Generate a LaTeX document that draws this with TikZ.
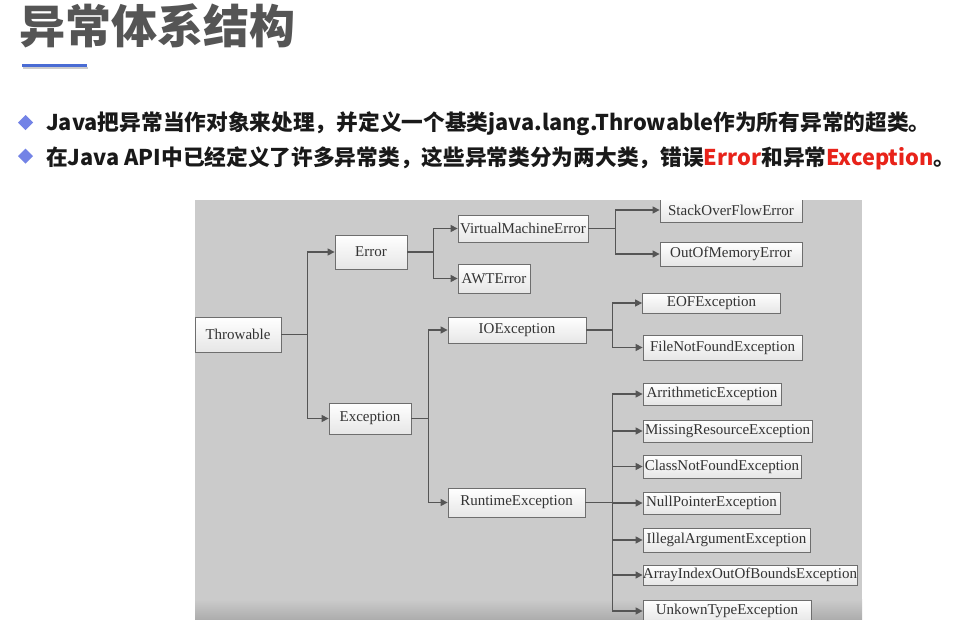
\documentclass[tikz,border=0pt]{standalone}
\usepackage{fontspec}
\newfontfamily\cjk{Noto Sans CJK SC}
\newfontfamily\tnr{Liberation Serif}
\usetikzlibrary{arrows.meta}
\definecolor{titlegray}{HTML}{555555}
\definecolor{ulblue}{HTML}{4A6CD4}
\definecolor{diablue}{HTML}{7383E6}
\definecolor{txtred}{HTML}{E8231A}
\definecolor{bggray}{HTML}{CBCBCB}
\definecolor{bgdark}{HTML}{ADADAD}
\definecolor{linegray}{HTML}{555555}
\definecolor{boxedge}{HTML}{6E6E6E}
\definecolor{boxbot}{HTML}{E6E6E6}
\definecolor{boxtext}{HTML}{333333}
\tikzset{
  box/.style={draw=boxedge, line width=0.8pt, top color=white, bottom color=boxbot,
    inner sep=0pt, text=boxtext, font=\tnr\fontsize{15}{15}\selectfont},
  arr/.style={draw=linegray, line width=1.3pt, -{Triangle[length=7pt,width=7pt]}},
  bullet/.style={fill=diablue},
  bullettext/.style={anchor=base west, inner sep=0pt, text=black!90,
    font=\cjk\bfseries\fontsize{21.7}{25}\selectfont}
}
\begin{document}
\begin{tikzpicture}[x=1pt,y=-1pt]
\useasboundingbox (0,0) rectangle (967,642);
\fill[white] (0,0) rectangle (967,642);
% title
\node[anchor=base west, inner sep=0pt, text=titlegray,
  font=\cjk\bfseries\fontsize{46}{50}\selectfont] (title) at (19,43.5) {异常体系结构};
\draw[gray!40, line width=2pt] (23,68) -- (88,68);
\draw[ulblue, line width=2.5pt] (22,65.5) -- (87,65.5);
% bullets
\fill[bullet] (25.5,115) -- (33,122.5) -- (25.5,130) -- (18,122.5) -- cycle;
\fill[bullet] (25.5,148.5) -- (33,156) -- (25.5,163.5) -- (18,156) -- cycle;
\node[bullettext] (b1) at (46,130.7) {Java把异常当作对象来处理，并定义一个基类java.lang.Throwable作为所有异常的超类。};
\node[bullettext] (b2) at (46,165) {在Java API中已经定义了许多异常类，这些异常类分为两大类，错误\textcolor{txtred}{Error}和异常\textcolor{txtred}{Exception}。};
% diagram
\begin{scope}
\clip (195,200) rectangle (862,619);
\fill[bggray] (195,200) rectangle (862,619);
\shade[top color=bggray, bottom color=bgdark] (195,599) rectangle (862,619);
\node[box, minimum width=86, minimum height=35] (thr) at (238,334.5) {Throwable};
\node[box, minimum width=72, minimum height=34] (err) at (371,252) {Error};
\node[box, minimum width=130, minimum height=27] (vme) at (523,228.5) {VirtualMachineError};
\node[box, minimum width=72, minimum height=29] (awt) at (494,278.5) {AWTError};
\node[box, minimum width=142, minimum height=25] (sof) at (731,210) {StackOverFlowError};
\node[box, minimum width=142, minimum height=24] (oom) at (731,254) {OutOfMemoryError};
\node[box, minimum width=82, minimum height=31] (exc) at (370,418.5) {Exception};
\node[box, minimum width=138, minimum height=26] (ioe) at (517,330) {IOException};
\node[box, minimum width=138, minimum height=20] (eof) at (711.5,303) {EOFException};
\node[box, minimum width=159, minimum height=25] (fnf) at (722.5,347.5) {FileNotFoundException};
\node[box, minimum width=137, minimum height=29] (rte) at (516.5,502.5) {RuntimeException};
\node[box, minimum width=138, minimum height=22] (ari) at (712,394) {ArrithmeticException};
\node[box, minimum width=169, minimum height=22] (mis) at (727.5,431) {MissingResourceException};
\node[box, minimum width=158, minimum height=23] (cnf) at (722,466.5) {ClassNotFoundException};
\node[box, minimum width=137, minimum height=22] (npe) at (711.5,503) {NullPointerException};
\node[box, minimum width=167, minimum height=24] (iae) at (726.5,540) {IllegalArgumentException};
\node[box, minimum width=214, minimum height=20] (aio) at (750,575) {ArrayIndexOutOfBoundsException};
\node[box, minimum width=168, minimum height=22] (ute) at (727,611) {UnkownTypeException};
% connectors
\draw[arr] (thr.east) -- +(26,0) |- (err.west);
\draw[arr] (thr.east) -- +(26,0) |- (exc.west);
\draw[arr] (err.east) -- +(26,0) |- (vme.west);
\draw[arr] (err.east) -- +(26,0) |- (awt.west);
\draw[arr] (vme.east) -- +(27,0) |- (sof.west);
\draw[arr] (vme.east) -- +(27,0) |- (oom.west);
\draw[arr] (exc.east) -- +(17,0) |- (ioe.west);
\draw[arr] (exc.east) -- +(17,0) |- (rte.west);
\draw[arr] (ioe.east) -- +(26,0) |- (eof.west);
\draw[arr] (ioe.east) -- +(26,0) |- (fnf.west);
\foreach \t in {ari,mis,cnf,npe,iae,aio,ute}
  \draw[arr] (rte.east) -- +(27,0) |- (\t.west);
\end{scope}
\end{tikzpicture}
\end{document}
